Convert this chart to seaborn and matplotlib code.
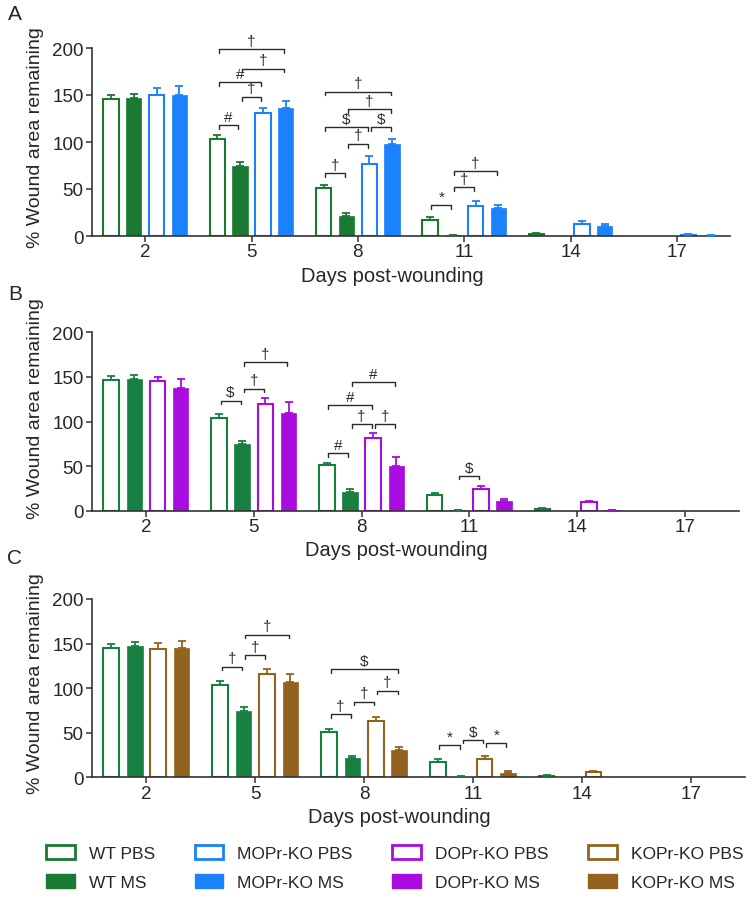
import numpy as np
import pandas as pd
import matplotlib.pyplot as plt
import seaborn as sns
from matplotlib.patches import Patch

sns.set_style('ticks')
plt.rcParams['font.family'] = ['Liberation Sans', 'DejaVu Sans']

days = ['2', '5', '8', '11', '14', '17']

# Panel A - MOPr-KO
groups_a = ['WT PBS', 'WT MS', 'MOPr-KO PBS', 'MOPr-KO MS']
colors_a = ['#1b7a32', '#1b7a32', '#1a82fa', '#1a82fa']
a_wt_pbs = [145.8, 103.0, 51.0, 17.3, 2.1, 0.0]
a_wt_pbs_sem = [4.6, 4.6, 2.8, 2.9, 0.7, 0.0]
a_wt_ms = [146.9, 74.3, 20.9, 1.0, 0.0, 0.0]
a_wt_ms_sem = [4.6, 4.3, 3.5, 0.4, 0.0, 0.0]
a_ko_pbs = [149.7, 130.6, 76.1, 31.9, 12.4, 1.0]
a_ko_pbs_sem = [7.5, 5.3, 9.2, 5.3, 3.9, 0.7]
a_ko_ms = [150.4, 136.3, 98.0, 30.1, 10.6, 0.5]
a_ko_ms_sem = [8.9, 7.1, 5.4, 2.5, 2.1, 0.3]

# Panel B - DOPr-KO
groups_b = ['WT PBS', 'WT MS', 'DOPr-KO PBS', 'DOPr-KO MS']
colors_b = ['#178040', '#178040', '#a80ce0', '#a80ce0']
b_wt_pbs = [146.5, 103.6, 51.6, 17.6, 2.3, 0.0]
b_wt_pbs_sem = [4.1, 4.4, 2.2, 2.6, 0.7, 0.0]
b_wt_ms = [147.7, 74.8, 21.3, 1.0, 0.0, 0.0]
b_wt_ms_sem = [4.1, 3.7, 3.0, 0.3, 0.0, 0.0]
b_ko_pbs = [145.4, 119.6, 81.5, 24.3, 10.1, 0.0]
b_ko_pbs_sem = [4.1, 6.4, 6.0, 3.7, 0.7, 0.0]
b_ko_ms = [137.2, 109.2, 50.5, 10.4, 0.5, 0.0]
b_ko_ms_sem = [10.5, 12.7, 9.4, 2.7, 0.2, 0.0]

# Panel C - KOPr-KO
groups_c = ['WT PBS', 'WT MS', 'KOPr-KO PBS', 'KOPr-KO MS']
colors_c = ['#178040', '#178040', '#94621f', '#94621f']
c_wt_pbs = [145.4, 103.2, 51.2, 17.5, 1.9, 0.0]
c_wt_pbs_sem = [4.5, 4.5, 2.6, 2.6, 0.6, 0.0]
c_wt_ms = [147.3, 74.4, 21.3, 0.7, 0.0, 0.0]
c_wt_ms_sem = [4.1, 4.1, 3.0, 0.3, 0.0, 0.0]
c_ko_pbs = [143.6, 115.9, 62.8, 20.5, 5.6, 0.0]
c_ko_pbs_sem = [7.1, 5.2, 4.9, 3.0, 1.3, 0.0]
c_ko_ms = [145.4, 106.9, 30.6, 5.2, 0.0, 0.0]
c_ko_ms_sem = [7.1, 9.4, 3.0, 1.9, 0.0, 0.0]

# significance brackets: (day index, bar i, bar j, height, symbol)
brackets_a = [(1, 0, 1, 118, '#'), (1, 1, 2, 148, '†'), (1, 0, 2, 163.5, '#'),
              (1, 1, 3, 178, '†'), (1, 0, 3, 199, '†'),
              (2, 0, 1, 67, '†'), (2, 1, 2, 98, '†'), (2, 0, 2, 116, '$'),
              (2, 2, 3, 116, '$'), (2, 1, 3, 135, '†'), (2, 0, 3, 153.5, '†'),
              (3, 0, 1, 32.5, '*'), (3, 1, 2, 52, '†'), (3, 1, 3, 69, '†')]
brackets_b = [(1, 0, 1, 123.5, '$'), (1, 1, 2, 137, '†'), (1, 1, 3, 166.5, '†'),
              (2, 0, 1, 64.5, '#'), (2, 1, 2, 97, '†'), (2, 2, 3, 97, '†'),
              (2, 0, 2, 118.5, '#'), (2, 1, 3, 144, '#'),
              (3, 1, 2, 39, '$')]
brackets_c = [(1, 0, 1, 124, '†'), (1, 1, 2, 137, '†'), (1, 1, 3, 160, '†'),
              (2, 0, 1, 71, '†'), (2, 1, 2, 85, '†'), (2, 2, 3, 97, '†'),
              (2, 0, 3, 121.5, '$'),
              (3, 0, 1, 36, '*'), (3, 1, 2, 42, '$'), (3, 2, 3, 38.5, '*')]


def draw_panel(ax, groups, colors, means, sems, brackets, ylabel_y):
    rows = []
    for g, m in zip(groups, means):
        for d, v in zip(days, m):
            rows.append({'Day': d, 'Group': g, 'Area': v})
    df = pd.DataFrame(rows)
    sns.barplot(data=df, x='Day', y='Area', hue='Group', order=days, hue_order=groups,
                palette=dict(zip(groups, colors)), saturation=1, errorbar=None,
                width=0.86, gap=0.33, legend=False, ax=ax)

    bar_conts = list(ax.containers)
    centers = []
    for k, cont in enumerate(bar_conts):
        xs = np.array([b.get_x() + b.get_width() / 2 for b in cont])
        centers.append(xs)
        for b in cont:
            if k % 2 == 0:
                b.set_facecolor('white')
                b.set_edgecolor(colors[k])
                b.set_linewidth(1.5)
                if b.get_height() == 0:
                    b.set_visible(False)
            else:
                b.set_edgecolor(colors[k])
                b.set_linewidth(0.5)
        m = np.array(means[k])
        s = np.array(sems[k])
        keep = s > 0
        ax.errorbar(xs[keep], m[keep], yerr=[np.zeros(keep.sum()), s[keep]], fmt='none',
                    ecolor=colors[k], elinewidth=1.3, capsize=2.6, capthick=1.3, zorder=3)

    shrink = 0.015
    for d, i, j, y, sym in brackets:
        x1 = centers[i][d] + shrink
        x2 = centers[j][d] - shrink
        ax.plot([x1, x1, x2, x2], [y - 4, y, y, y - 4], color='#2a2a2a', lw=1.0,
                clip_on=False, zorder=4)
        ax.text((x1 + x2) / 2, y + 1.5, sym, ha='center', va='bottom', fontsize=11,
                color='#2a2a2a', clip_on=False)

    ax.set_xlim(-0.5, 5.5)
    ax.set_ylim(0, 200)
    ax.set_yticks([0, 50, 100, 150, 200])
    sns.despine(ax=ax)
    for sp in ['left', 'bottom']:
        ax.spines[sp].set_linewidth(1.2)
        ax.spines[sp].set_color('#333333')
    ax.tick_params(axis='both', length=4, width=1.1, color='#333333', labelsize=13.5)
    ax.tick_params(axis='x', pad=1.2)
    ax.tick_params(axis='y', pad=2)
    ax.set_xlabel('Days post-wounding', fontsize=14.5, labelpad=4)
    ax.xaxis.label.set_x(0.47)
    ax.set_ylabel('% Wound area remaining', fontsize=14, labelpad=6)
    ax.yaxis.label.set_y(ylabel_y)


fig = plt.figure(figsize=(7.54, 9.04), dpi=100)
ax_a = fig.add_axes([92 / 754, 1 - 237 / 904, 638 / 754, 188 / 904])
ax_b = fig.add_axes([92 / 754, 1 - 511.7 / 904, 647 / 754, 178.3 / 904])
ax_c = fig.add_axes([92 / 754, 1 - 778.3 / 904, 653 / 754, 178.3 / 904])

draw_panel(ax_a, groups_a, colors_a,
           [a_wt_pbs, a_wt_ms, a_ko_pbs, a_ko_ms],
           [a_wt_pbs_sem, a_wt_ms_sem, a_ko_pbs_sem, a_ko_ms_sem], brackets_a, 0.53)
draw_panel(ax_b, groups_b, colors_b,
           [b_wt_pbs, b_wt_ms, b_ko_pbs, b_ko_ms],
           [b_wt_pbs_sem, b_wt_ms_sem, b_ko_pbs_sem, b_ko_ms_sem], brackets_b, 0.58)
draw_panel(ax_c, groups_c, colors_c,
           [c_wt_pbs, c_wt_ms, c_ko_pbs, c_ko_ms],
           [c_wt_pbs_sem, c_wt_ms_sem, c_ko_pbs_sem, c_ko_ms_sem], brackets_c, 0.53)

for letter, ypix in [('A', 15), ('B', 294), ('C', 558)]:
    fig.text(15 / 754, 1 - ypix / 904, letter, fontsize=15, ha='center', va='center')

# shared legend
legend_groups = ['WT PBS', 'WT MS', 'MOPr-KO PBS', 'MOPr-KO MS',
                 'DOPr-KO PBS', 'DOPr-KO MS', 'KOPr-KO PBS', 'KOPr-KO MS']
legend_colors = ['#1b7a32', '#1b7a32', '#1a82fa', '#1a82fa',
                 '#a80ce0', '#a80ce0', '#94621f', '#94621f']
handles = []
for k, (g, c) in enumerate(zip(legend_groups, legend_colors)):
    if k % 2 == 0:
        handles.append(Patch(facecolor='white', edgecolor=c, linewidth=2, label=g))
    else:
        handles.append(Patch(facecolor=c, edgecolor=c, linewidth=1, label=g))
fig.legend(handles=handles, ncol=4, loc='upper left', bbox_to_anchor=(46 / 754, 1 - 846 / 904),
           frameon=False, fontsize=12.5, handlelength=1.65, handleheight=0.85,
           handletextpad=0.8, columnspacing=2.3, labelspacing=0.75,
           borderpad=0, borderaxespad=0)

plt.savefig('out.png', dpi=100)
